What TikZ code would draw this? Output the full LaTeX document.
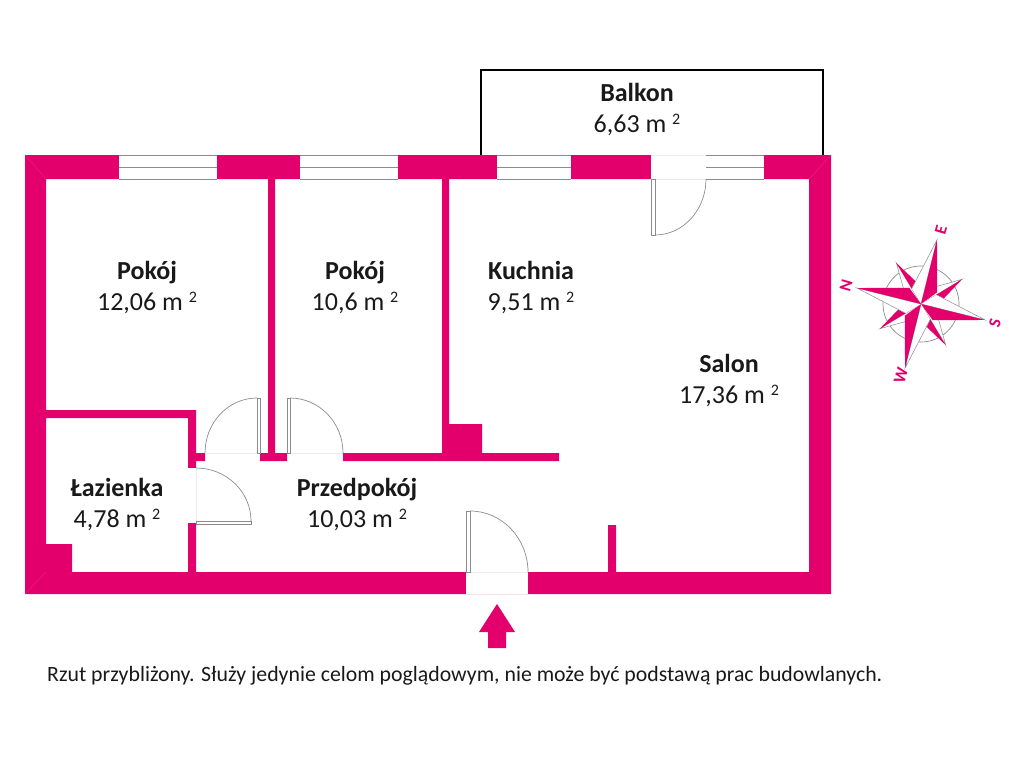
\documentclass[tikz,border=0pt]{standalone}
\usepackage{fontspec}
\setmainfont{Carlito}

\definecolor{wallpink}{HTML}{E3006D}
\definecolor{frame}{HTML}{8C8C8C}
\newcommand{\areatext}[1]{#1 m \raisebox{8pt}{\fontsize{16}{16}\selectfont 2}}

\begin{document}
\begin{tikzpicture}[x=1pt,y=-1pt,
	wall/.style={fill=wallpink},
	thin frame/.style={draw=frame,line width=0.7pt},
	leaf/.style={draw=frame,fill=white,line width=0.7pt},
	gap/.style={draw=black!7,line width=0.5pt},
	mitre/.style={draw=wallpink!85!white,line width=0.4pt},
	room/.style={align=center,text=black!90,font=\fontsize{26}{31}\selectfont},
	letter/.style={text=wallpink,font=\bfseries\fontsize{17}{17}\selectfont,rotate=74,inner sep=0pt}]

	\useasboundingbox (0,0) rectangle (1024,768);

	% ---- balcony

	\draw[black,line width=2pt] (481,155) -- (481,70) -- (823,70) -- (823,155);

	% ---- walls

	\fill[wall]
		(25,155) rectangle (831,179)    % top
		(25,155) rectangle (46,594)     % left
		(809,155) rectangle (831,594)   % right
		(25,572) rectangle (831,594)    % bottom
		(268,179) rectangle (275,453)   % between rooms
		(260,453) rectangle (287,461)
		(343,453) rectangle (559,461)   % hall
		(442,179) rectangle (449,453)   % kitchen
		(442,424) rectangle (482,453)
		(46,410) rectangle (196,418)    % bathroom
		(188,410) rectangle (196,468)
		(188,453) rectangle (205,461)
		(188,523) rectangle (196,572)
		(46,544) rectangle (72,572)
		(608,525) rectangle (616,572);  % salon stub

	\draw[mitre] (25,155) -- (46,179);
	\draw[mitre] (831,155) -- (809,179);
	\draw[mitre] (25,594) -- (46,572);

	% ---- windows

	\foreach \xa/\xb in {119/217,300/398,497/571,706/764} {
		\fill[white] (\xa,155) rectangle (\xb,179);
		\draw[thin frame] (\xa,155) -- (\xb,155);
		\draw[thin frame] (\xa,167) -- (\xb,167);
		\draw[thin frame] (\xa,179) -- (\xb,179);
	}

	% ---- door gaps

	\fill[white] (651,155) rectangle (706,179);
	\fill[white] (466,572) rectangle (528,594);
	\fill[white] (188,468) rectangle (196,523);

	\draw[gap] (651,155) -- (706,155);
	\draw[gap] (466,572) -- (528,572);
	\draw[gap] (205,453) -- (260,453);
	\draw[gap] (287,453) -- (343,453);
	\draw[gap] (196,468) -- (196,523);

	% ---- doors

	\draw[leaf] (257,398) rectangle (260,453);
	\draw[thin frame] (257,398) arc[start angle=270,end angle=180,x radius=52,y radius=55];

	\draw[leaf] (287,398) rectangle (290,453);
	\draw[thin frame] (290,398) arc[start angle=270,end angle=360,x radius=53,y radius=55];

	\draw[leaf] (196,521) rectangle (251,524);
	\draw[thin frame] (196,468) arc[start angle=270,end angle=360,x radius=55,y radius=53];

	\draw[leaf] (466,511) rectangle (470,572);
	\draw[thin frame] (470,511) arc[start angle=270,end angle=360,x radius=58,y radius=61];

	\draw[leaf] (651,179) rectangle (655,235);
	\draw[thin frame] (706,179) arc[start angle=0,end angle=90,x radius=51,y radius=56];

	% ---- entrance arrow

	\fill[wall] (497,604) -- (515,632) -- (506,632) -- (506,648)
		-- (488,648) -- (488,632) -- (479,632) -- cycle;

	% ---- room labels

	\node[room] (balkon) at (637,110) {\textbf{Balkon}\\\areatext{6,63}};
	\node[room] (pokoj1) at (147,288) {\textbf{Pokój}\\\areatext{12,06}};
	\node[room] (pokoj2) at (355,288) {\textbf{Pokój}\\\areatext{10,6}};
	\node[room] (kuchnia) at (531,288) {\textbf{Kuchnia}\\\areatext{9,51}};
	\node[room] (salon) at (729,381) {\textbf{Salon}\\\areatext{17,36}};
	\node[room] (lazienka) at (117,505) {\textbf{Łazienka}\\\areatext{4,78}};
	\node[room] (przedpokoj) at (357,505) {\textbf{Przedpokój}\\\areatext{10,03}};

	\node[anchor=west,inner sep=0pt,text=black!90,font=\fontsize{21.8}{26}\selectfont] (note) at (47,676)
		{Rzut przybliżony. Służy jedynie celom poglądowym, nie może być podstawą prac budowlanych.};

	% ---- compass

	\begin{scope}[shift={(921,304)}]
		\draw[frame,line width=0.7pt] (0,0) circle (38);
		\foreach \a in {-31,59,149,239} {
			\fill[white] (0,0) -- (\a:48) -- (\a-24:20) -- cycle;
			\draw[frame,line width=0.5pt] (0,0) -- (\a:48) -- (\a-24:20);
			\fill[wallpink] (0,0) -- (\a:48) -- (\a+24:20) -- cycle;
		}
		\foreach \a in {-76,14,104,194} {
			\fill[white] (0,0) -- (\a:66) -- (\a-45:18) -- cycle;
			\draw[frame,line width=0.5pt] (0,0) -- (\a:66) -- (\a-45:18);
			\fill[wallpink] (0,0) -- (\a:66) -- (\a+40:20) -- cycle;
		}
	\end{scope}

	\node[letter] (compassN) at (846,286) {N};
	\node[letter] (compassE) at (941,230) {E};
	\node[letter] (compassS) at (995,323) {S};
	\node[letter] (compassW) at (901,376) {W};

\end{tikzpicture}
\end{document}
